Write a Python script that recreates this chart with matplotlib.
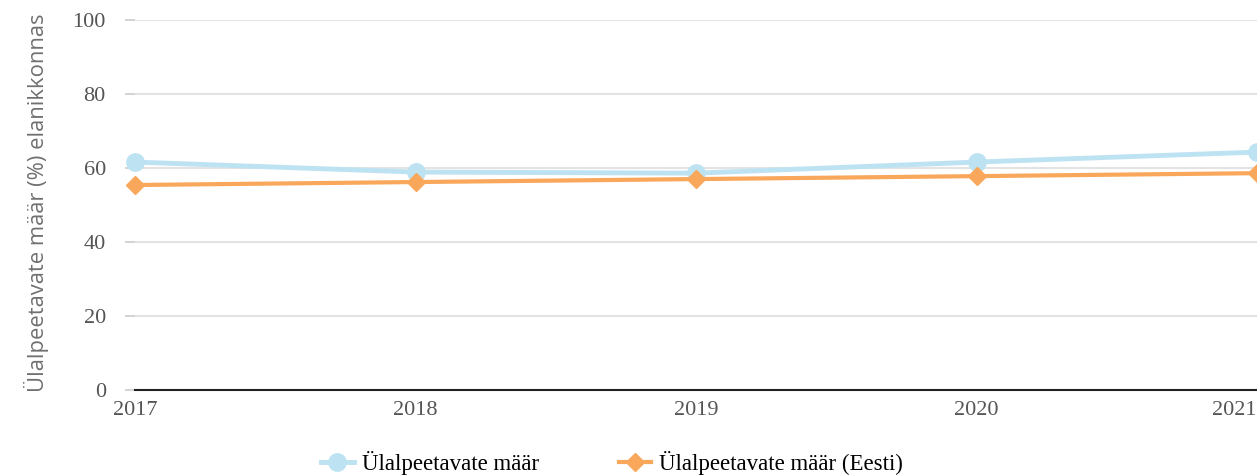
import matplotlib
matplotlib.use("Agg")
import matplotlib.pyplot as plt
from matplotlib.lines import Line2D

years = [2017, 2018, 2019, 2020, 2021]
maar = [61.6, 58.9, 58.6, 61.6, 64.3]
maar_eesti = [55.4, 56.2, 57.0, 57.8, 58.6]
yticks = [0, 20, 40, 60, 80, 100]

blue = "#bde3f3"
orange = "#f9a75a"
tick_font = "Liberation Serif"

fig = plt.figure(figsize=(12.57, 4.76), dpi=100)
ax = fig.add_axes([0.1074, 0.1807, 0.8926, 0.7773])

for y in yticks[1:]:
    ax.axhline(y, color="#e3e3e3", lw=1.5, zorder=1)

ax.plot(years, maar, color=blue, lw=3.5, marker="o", ms=12.5, zorder=3, clip_on=False)
ax.plot(years, maar_eesti, color=orange, lw=3, marker="D", ms=9.5, zorder=4, clip_on=False)

ax.set_xlim(2017, 2021)
ax.set_ylim(0, 100)
ax.set_yticks(yticks)
ax.set_xticks(years)
for s in ["top", "right", "left"]:
    ax.spines[s].set_visible(False)
ax.spines["bottom"].set_color("#222222")
ax.spines["bottom"].set_linewidth(1.5)
ax.tick_params(axis="y", length=7, color="#cccccc", width=1.2, pad=14)
ax.tick_params(axis="x", length=0, pad=8)
for lab in ax.get_xticklabels() + ax.get_yticklabels():
    lab.set_fontfamily(tick_font)
    lab.set_fontsize(16)
    lab.set_color("#555555")
ax.get_xticklabels()[-1].set_horizontalalignment("right")

ax.set_ylabel("Ülalpeetavate määr (%) elanikkonnas", fontsize=15.8,
              family="Open Sans", color="#707070")
ax.yaxis.set_label_coords(-0.077, 0.505)

handles = [
    Line2D([], [], color=blue, lw=3.5, marker="o", ms=12.5),
    Line2D([], [], color=orange, lw=3, marker="D", ms=9.5),
]
fig.legend(handles, ["Ülalpeetavate määr", "Ülalpeetavate määr (Eesti)"],
           loc="center", bbox_to_anchor=(0.487, 0.027), ncol=2, frameon=False,
           prop={"family": tick_font, "size": 16.5}, handlelength=1.4,
           columnspacing=3.5, handletextpad=0.35)

fig.savefig("out.png", dpi=100)
